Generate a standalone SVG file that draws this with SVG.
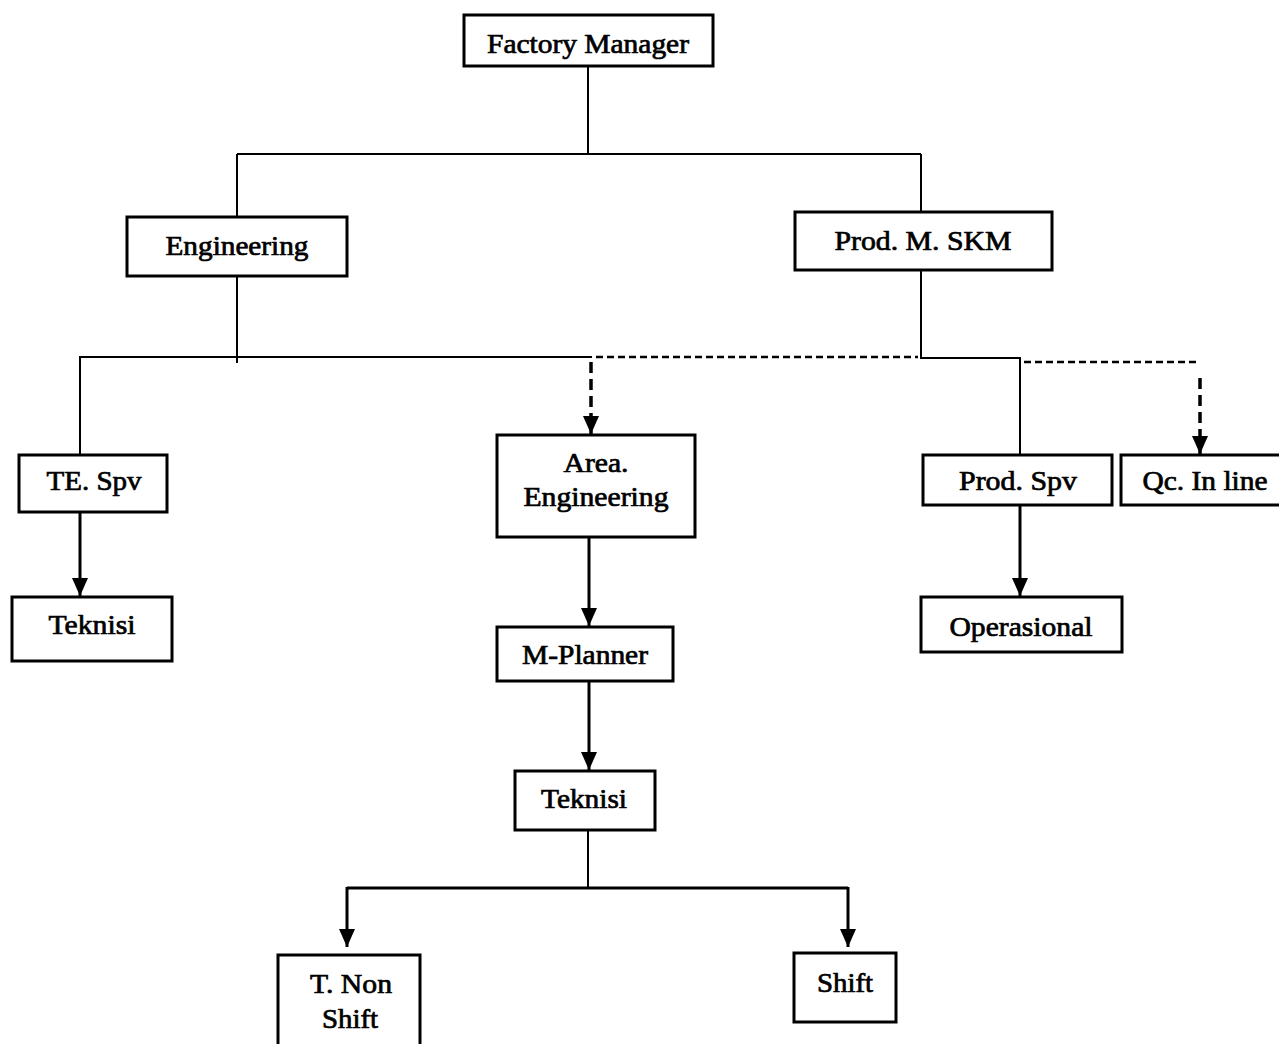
<svg xmlns="http://www.w3.org/2000/svg" width="1279" height="1044" viewBox="0 0 1279 1044">
  <style>
    .box { fill: #fff; stroke: #000; stroke-width: 3; }
    .lbl { font-family: "Liberation Serif", "Times New Roman", serif; font-size: 27px; fill: #000; text-anchor: middle; stroke: #000; stroke-width: 0.7; }
    .thin { fill: none; stroke: #000; stroke-width: 2; }
    .arrow { fill: none; stroke: #000; stroke-width: 3; }
    .dash { fill: none; stroke: #000; stroke-width: 2.5; stroke-dasharray: 7 4; }
    .dashv { fill: none; stroke: #000; stroke-width: 3.5; stroke-dasharray: 11 6; }
  </style>
  <defs>
    <!-- filled triangle pointing along the line direction -->
    <marker id="head" markerUnits="userSpaceOnUse" markerWidth="18" markerHeight="18" viewBox="0 0 18 18" refX="18" refY="9" orient="auto">
      <path d="M0,1 L18,9 L0,17 Z" fill="#000"/>
    </marker>
  </defs>
  <rect width="1279" height="1044" fill="#fff"/>

  <g id="connectors">
    <!-- top tier -->
    <path class="thin" d="M588,66 V154"/>
    <path class="thin" d="M237,154 H921 M237,154 V217 M921,154 V212"/>
    <!-- engineering branch -->
    <path class="thin" d="M237,276 V363"/>
    <path class="thin" d="M79,357 H592"/>
    <path class="thin" d="M80,357 V455"/>
    <!-- production branch -->
    <path class="thin" d="M921,270 V358 H1020 V455"/>
    <path class="dash" d="M596,357 H918"/>
    <path class="dash" d="M1024,362 H1200"/>
    <path class="dashv" d="M591,362 V434" marker-end="url(#head)"/>
    <path class="dashv" d="M1200,378 V454" marker-end="url(#head)"/>
    <!-- solid reporting arrows -->
    <path class="arrow" d="M80,512 V596" marker-end="url(#head)"/>
    <path class="arrow" d="M589,537 V626" marker-end="url(#head)"/>
    <path class="arrow" d="M589,681 V770" marker-end="url(#head)"/>
    <path class="arrow" d="M1020,505 V596" marker-end="url(#head)"/>
    <!-- teknisi split -->
    <path class="thin" d="M588,830 V888"/>
    <path class="arrow" d="M347,888 H848"/>
    <path class="arrow" d="M347,887 V947" marker-end="url(#head)"/>
    <path class="arrow" d="M848,887 V947" marker-end="url(#head)"/>
  </g>

  <g id="factory-manager">
    <rect class="box" x="464" y="15" width="249" height="51"/>
    <text class="lbl" x="588" y="53" textLength="202" lengthAdjust="spacingAndGlyphs">Factory Manager</text>
  </g>
  <g id="engineering">
    <rect class="box" x="127" y="217" width="220" height="59"/>
    <text class="lbl" x="237" y="255" textLength="143" lengthAdjust="spacingAndGlyphs">Engineering</text>
  </g>
  <g id="prod-m-skm">
    <rect class="box" x="795" y="212" width="257" height="58"/>
    <text class="lbl" x="923" y="250" textLength="177" lengthAdjust="spacingAndGlyphs">Prod. M. SKM</text>
  </g>
  <g id="te-spv">
    <rect class="box" x="19" y="455" width="148" height="57"/>
    <text class="lbl" x="94" y="490" textLength="95" lengthAdjust="spacingAndGlyphs">TE. Spv</text>
  </g>
  <g id="teknisi-te">
    <rect class="box" x="12" y="597" width="160" height="64"/>
    <text class="lbl" x="92" y="634" textLength="87" lengthAdjust="spacingAndGlyphs">Teknisi</text>
  </g>
  <g id="area-engineering">
    <rect class="box" x="497" y="435" width="198" height="102"/>
    <text class="lbl" x="596" y="472" textLength="65" lengthAdjust="spacingAndGlyphs">Area.</text>
    <text class="lbl" x="596" y="506" textLength="145" lengthAdjust="spacingAndGlyphs">Engineering</text>
  </g>
  <g id="m-planner">
    <rect class="box" x="497" y="627" width="176" height="54"/>
    <text class="lbl" x="585" y="664" textLength="126" lengthAdjust="spacingAndGlyphs">M-Planner</text>
  </g>
  <g id="teknisi-area">
    <rect class="box" x="515" y="771" width="140" height="59"/>
    <text class="lbl" x="584" y="808" textLength="86" lengthAdjust="spacingAndGlyphs">Teknisi</text>
  </g>
  <g id="t-non-shift">
    <rect class="box" x="278" y="955" width="142" height="100"/>
    <text class="lbl" x="351" y="993" textLength="82" lengthAdjust="spacingAndGlyphs">T. Non</text>
    <text class="lbl" x="350" y="1028" textLength="56" lengthAdjust="spacingAndGlyphs">Shift</text>
  </g>
  <g id="shift">
    <rect class="box" x="794" y="953" width="102" height="69"/>
    <text class="lbl" x="845" y="992" textLength="56" lengthAdjust="spacingAndGlyphs">Shift</text>
  </g>
  <g id="prod-spv">
    <rect class="box" x="923" y="455" width="189" height="50"/>
    <text class="lbl" x="1018" y="490" textLength="118" lengthAdjust="spacingAndGlyphs">Prod. Spv</text>
  </g>
  <g id="qc-in-line">
    <rect class="box" x="1121" y="455" width="175" height="50"/>
    <text class="lbl" x="1205" y="490" textLength="125" lengthAdjust="spacingAndGlyphs">Qc. In line</text>
  </g>
  <g id="operasional">
    <rect class="box" x="921" y="597" width="201" height="55"/>
    <text class="lbl" x="1021" y="636" textLength="143" lengthAdjust="spacingAndGlyphs">Operasional</text>
  </g>
</svg>
